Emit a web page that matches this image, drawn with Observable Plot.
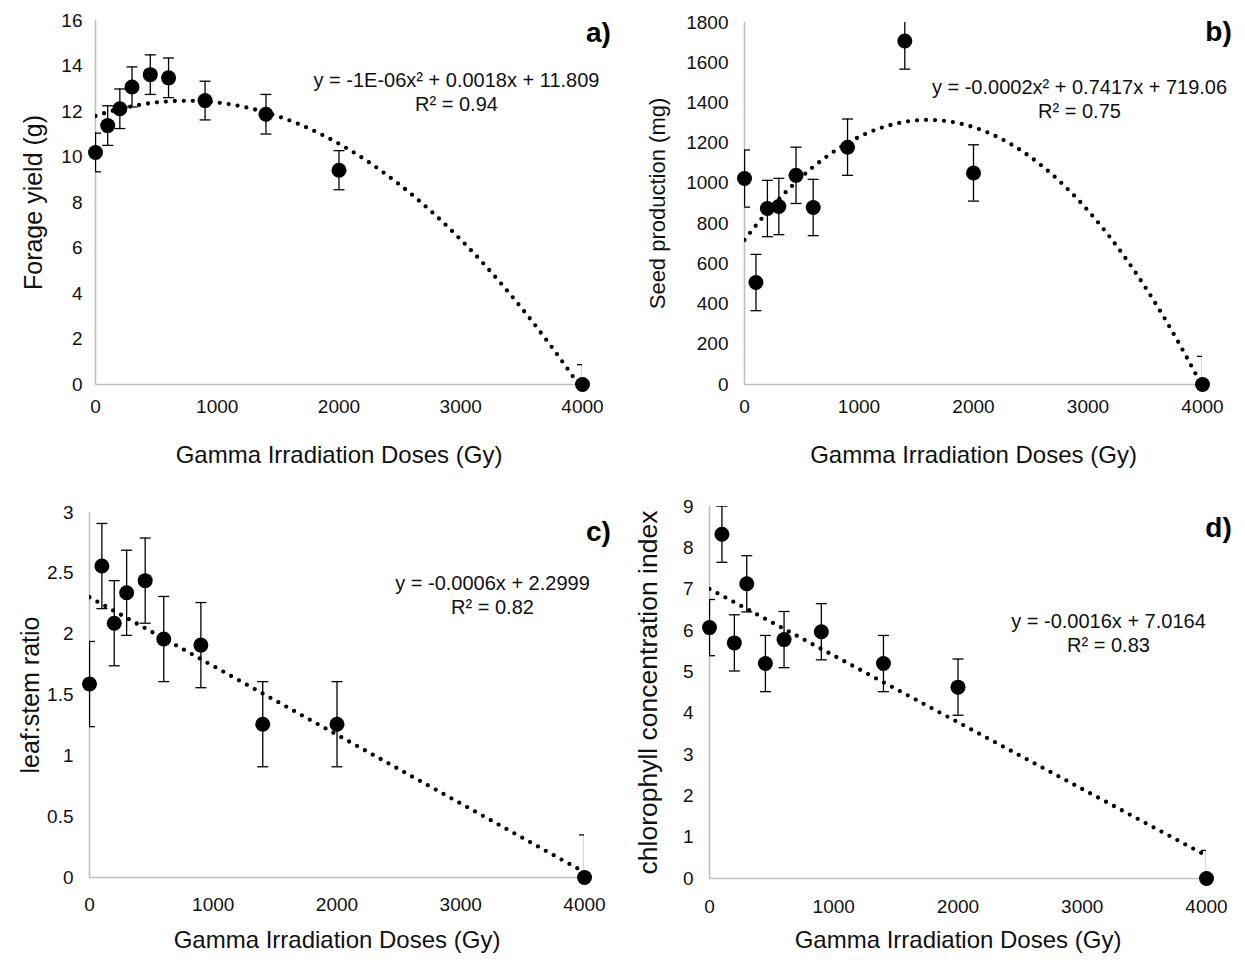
<!DOCTYPE html>
<html><head><meta charset="utf-8">
<script src="https://cdn.jsdelivr.net/npm/d3@7"></script>
<script src="https://cdn.jsdelivr.net/npm/@observablehq/plot@0.6"></script>
<style>
body{margin:0;background:#fff;}
#wrap{position:relative;width:1245px;height:962px;background:#fff;}
.panel{position:absolute;}
</style></head><body><div id="wrap"></div>
<script>
// ---- data ----
const doses = [0, 100, 200, 300, 450, 600, 900, 1400, 2000, 4000];

const forageYield = [10.2, 11.38, 12.12, 13.08, 13.62, 13.48, 12.48, 11.88, 9.42, 0];
const forageErr   = [0.85, 0.87, 0.87, 0.88, 0.87, 0.87, 0.85, 0.87, 0.86, 0.87];

const seedProd = [1024, 507, 875, 885, 1040, 880, 1180, 1708, 1052, 0];
const seedErr  = [142, 140, 140, 140, 140, 140, 140, 140, 140, 140];

const leafStem    = [1.59, 2.56, 2.09, 2.34, 2.44, 1.96, 1.91, 1.26, 1.26, 0];
const leafStemErr = [0.35, 0.35, 0.35, 0.35, 0.35, 0.35, 0.35, 0.35, 0.35, 0.35];

const chloro    = [6.07, 8.33, 5.7, 7.13, 5.2, 5.78, 5.97, 5.2, 4.63, 0];
const chloroErr = [0.68, 0.68, 0.68, 0.68, 0.68, 0.68, 0.68, 0.68, 0.68, 0.68];

const xTicks = [0, 1000, 2000, 3000, 4000];
const yTicksA = [0, 2, 4, 6, 8, 10, 12, 14, 16];
const yTicksB = [0, 200, 400, 600, 800, 1000, 1200, 1400, 1600, 1800];
const yTicksC = [0, 0.5, 1, 1.5, 2, 2.5, 3];
const yTicksD = [0, 1, 2, 3, 4, 5, 6, 7, 8, 9];

const xLabel = "Gamma Irradiation Doses (Gy)";
const yLabels = ["Forage yield (g)", "Seed production (mg)", "leaf:stem ratio", "chlorophyll concentration index"];
const equations = [
  "y = -1E-06x\u00B2 + 0.0018x + 11.809",
  "y = -0.0002x\u00B2 + 0.7417x + 719.06",
  "y = -0.0006x + 2.2999",
  "y = -0.0016x + 7.0164"
];
const r2Labels = ["R\u00B2 = 0.94", "R\u00B2 = 0.75", "R\u00B2 = 0.82", "R\u00B2 = 0.83"];
const letters = ["a)", "b)", "c)", "d)"];

// ---- regression helpers ----
function fitPoly(xs, ys, deg) {
  const s = 1000, n = deg + 1;
  const M = Array.from({length: n}, () => Array(n).fill(0));
  const T = Array(n).fill(0);
  xs.forEach((x, i) => {
    const u = x / s;
    for (let a = 0; a < n; a++) {
      T[a] += ys[i] * Math.pow(u, a);
      for (let b = 0; b < n; b++) M[a][b] += Math.pow(u, a + b);
    }
  });
  for (let c = 0; c < n; c++) {
    let p = c;
    for (let r = c + 1; r < n; r++) if (Math.abs(M[r][c]) > Math.abs(M[p][c])) p = r;
    [M[c], M[p]] = [M[p], M[c]]; [T[c], T[p]] = [T[p], T[c]];
    for (let r = c + 1; r < n; r++) {
      const f = M[r][c] / M[c][c];
      for (let k = c; k < n; k++) M[r][k] -= f * M[c][k];
      T[r] -= f * T[c];
    }
  }
  const coef = Array(n).fill(0);
  for (let r = n - 1; r >= 0; r--) {
    let v = T[r];
    for (let k = r + 1; k < n; k++) v -= M[r][k] * coef[k];
    coef[r] = v / M[r][r];
  }
  return x => coef.reduce((acc, c, k) => acc + c * Math.pow(x / s, k), 0);
}

const capSymbol = {draw(ctx) { ctx.moveTo(-5.5, 0); ctx.lineTo(5.5, 0); }};
const FONT = "'Liberation Sans', Arial, Helvetica, sans-serif";
const sampleX = d3.range(0, 4000.001, 10);

function panel(cfg) {
  const rows = doses.map((x, i) => ({x, y: cfg.values[i], lo: cfg.values[i] - cfg.errs[i], hi: cfg.values[i] + cfg.errs[i]}));
  const f = fitPoly(doses, cfg.values, cfg.deg);
  const curve = sampleX.map(x => ({x, y: f(x)}));
  const m = cfg.margin;
  const plot = Plot.plot({
    width: cfg.width, height: cfg.height,
    marginLeft: m[0], marginRight: m[1], marginTop: m[2], marginBottom: m[3],
    style: {fontFamily: FONT, fontSize: "19px", color: "#111", background: "#fff", overflow: "visible"},
    x: {domain: [0, 4000]},
    y: {domain: cfg.yDomain},
    marks: [
      Plot.ruleY([0], {stroke: "#bfbfbf", strokeWidth: 1.6}),
      Plot.ruleX([0], {stroke: "#bfbfbf", strokeWidth: 1.6}),
      Plot.axisX({ticks: xTicks, tickSize: 0, tickPadding: cfg.xPad, label: null, fontSize: 19, tickFormat: d => String(d)}),
      Plot.axisY({ticks: cfg.yTicks, tickSize: 0, tickPadding: cfg.yPad, label: null, fontSize: 19, tickFormat: d => String(d)}),
      Plot.line(curve, {x: "x", y: "y", stroke: "#000", strokeWidth: 4.3, strokeDasharray: "0 9", strokeLinecap: "round", clip: true}),
      Plot.ruleX(rows, {x: "x", y1: "lo", y2: "hi", stroke: "#000", strokeWidth: 1.3, clip: true}),
      Plot.dot(rows, {x: "x", y: "hi", symbol: capSymbol, stroke: "#000", fill: "none", strokeWidth: 1.3, clip: true}),
      Plot.dot(rows, {x: "x", y: "lo", symbol: capSymbol, stroke: "#000", fill: "none", strokeWidth: 1.3, clip: true}),
      Plot.dot(rows, {x: "x", y: "y", r: 7.5, fill: "#000", stroke: "none"}),
      Plot.text([cfg.eq], {frameAnchor: "top-right", dx: cfg.eqPos[0], dy: cfg.eqPos[1], textAnchor: "middle", lineAnchor: "middle", fontSize: 20, fill: "#111"}),
      Plot.text([cfg.r2], {frameAnchor: "top-right", dx: cfg.eqPos[0], dy: cfg.eqPos[1] + 24, textAnchor: "middle", lineAnchor: "middle", fontSize: 20, fill: "#111"}),
      Plot.text([cfg.letter], {frameAnchor: "top-right", dx: cfg.letterPos[0], dy: cfg.letterPos[1], textAnchor: "middle", lineAnchor: "middle", fontSize: 28, fontWeight: "bold", fill: "#000"}),
      Plot.text([cfg.yLabel], {frameAnchor: "left", dx: cfg.yLabDx, rotate: -90, textAnchor: "middle", lineAnchor: "middle", fontSize: cfg.yLabSize, fill: "#111"}),
      Plot.text([xLabel], {frameAnchor: "bottom", dy: cfg.xLabDy, textAnchor: "middle", lineAnchor: "middle", fontSize: 24, fill: "#111"})
    ]
  });
  const div = document.createElement("div");
  div.className = "panel";
  div.style.left = cfg.left + "px";
  div.style.top = cfg.top + "px";
  div.appendChild(plot);
  document.getElementById("wrap").appendChild(div);
}

panel({left: 0, top: 0, width: 620, height: 480, margin: [95, 38, 20, 96],
  values: forageYield, errs: forageErr, deg: 2, yDomain: [0, 16], yTicks: yTicksA,
  xPad: 15, yPad: 13, eq: equations[0], r2: r2Labels[0], letter: letters[0], yLabel: yLabels[0], yLabSize: 25,
  eqPos: [-126, 60], letterPos: [16, 13], yLabDx: -62, xLabDy: 71});

panel({left: 620, top: 0, width: 625, height: 480, margin: [124, 43, 22, 96],
  values: seedProd, errs: seedErr, deg: 2, yDomain: [0, 1800], yTicks: yTicksB,
  xPad: 15, yPad: 16, eq: equations[1], r2: r2Labels[1], letter: letters[1], yLabel: yLabels[1], yLabSize: 22,
  eqPos: [-123, 65], letterPos: [16, 10], yLabDx: -87, xLabDy: 71});

panel({left: 0, top: 480, width: 620, height: 482, margin: [89, 36, 32, 85],
  values: leafStem, errs: leafStemErr, deg: 1, yDomain: [0, 3], yTicks: yTicksC,
  xPad: 20, yPad: 16, eq: equations[2], r2: r2Labels[2], letter: letters[2], yLabel: yLabels[2], yLabSize: 25,
  eqPos: [-92, 71], letterPos: [14, 20], yLabDx: -59, xLabDy: 63});

panel({left: 620, top: 480, width: 625, height: 482, margin: [89, 39, 26, 84],
  values: chloro, errs: chloroErr, deg: 1, yDomain: [0, 9], yTicks: yTicksD,
  xPad: 21, yPad: 16, eq: equations[3], r2: r2Labels[3], letter: letters[3], yLabel: yLabels[3], yLabSize: 26.5,
  eqPos: [-98, 115], letterPos: [12, 22], yLabDx: -61, xLabDy: 62});
</script>
</body></html>
